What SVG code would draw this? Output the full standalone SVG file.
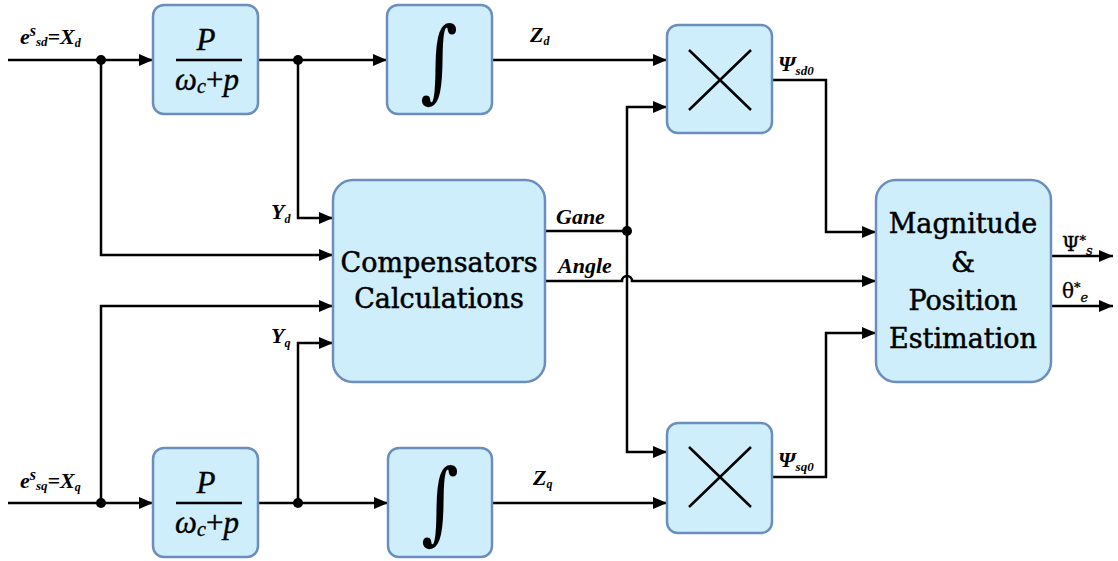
<svg xmlns="http://www.w3.org/2000/svg" width="1118" height="561" viewBox="0 0 1118 561">
<style>
.box{fill:#cdeefa;stroke:#6c8ebf;stroke-width:2.5}
.ln{fill:none;stroke:#000;stroke-width:2.5}
.lbl{font-family:"Liberation Serif","DejaVu Serif",serif;font-style:italic;font-weight:bold;font-size:22px;fill:#000}
.big{font-family:"DejaVu Serif","Liberation Serif",serif;font-size:27px;fill:#000;stroke:#000;stroke-width:0.5;text-anchor:middle}
.frac{font-family:"Liberation Serif","DejaVu Serif",serif;font-style:italic;font-size:31px;fill:#000;stroke:#000;stroke-width:0.4;text-anchor:middle}
.int{font-family:"DejaVu Serif",serif;font-size:72px;fill:#000;text-anchor:middle}
.out{font-family:"DejaVu Serif",serif;font-size:20px;fill:#000;stroke:#000;stroke-width:0.3}
</style>
<defs>
<marker id="ah" viewBox="0 0 14 12" refX="14" refY="6" markerWidth="14" markerHeight="12" markerUnits="userSpaceOnUse" orient="auto">
<path d="M0,0 L14,6 L0,12 Z" fill="#000"/>
</marker>
</defs>

<g id="connectors">
<path class="ln" d="M8,60 H153" marker-end="url(#ah)"/>
<path class="ln" d="M258,60 H387" marker-end="url(#ah)"/>
<path class="ln" d="M492,60 H667" marker-end="url(#ah)"/>
<path class="ln" d="M101,60 V255 H333" marker-end="url(#ah)"/>
<path class="ln" d="M298,60 V218 H333" marker-end="url(#ah)"/>
<path class="ln" d="M8,503 H153" marker-end="url(#ah)"/>
<path class="ln" d="M258,503 H388" marker-end="url(#ah)"/>
<path class="ln" d="M492,503 H667" marker-end="url(#ah)"/>
<path class="ln" d="M101,503 V306 H333" marker-end="url(#ah)"/>
<path class="ln" d="M298,503 V343 H333" marker-end="url(#ah)"/>
<path class="ln" d="M545,231 H627"/>
<path class="ln" d="M627,231 V107 H667" marker-end="url(#ah)"/>
<path class="ln" d="M627,231 V452 H667" marker-end="url(#ah)"/>
<path class="ln" d="M545,281 H622 A5,5 0 0 1 632,281 H876" marker-end="url(#ah)"/>
<path class="ln" d="M772,80 H826 V232 H876" marker-end="url(#ah)"/>
<path class="ln" d="M772,477 H826 V333 H876" marker-end="url(#ah)"/>
<path class="ln" d="M1051,256 H1113" marker-end="url(#ah)"/>
<path class="ln" d="M1051,306 H1113" marker-end="url(#ah)"/>
<circle cx="101" cy="60" r="5"/>
<circle cx="298" cy="60" r="5"/>
<circle cx="101" cy="503" r="5"/>
<circle cx="298" cy="503" r="5"/>
<circle cx="627" cy="231" r="5"/>
</g>

<g id="lpf-d">
<rect class="box" x="153" y="5" width="105" height="109" rx="11"/>
<text class="frac" x="206" y="50">P</text>
<line x1="176" y1="60" x2="242" y2="60" stroke="#000" stroke-width="2.5"/>
<text class="frac" x="207" y="90">ω<tspan font-size="20" dy="3">c</tspan><tspan font-style="normal" dy="-3">+</tspan>p</text>
</g>

<g id="int-d">
<rect class="box" x="387" y="5" width="105" height="109" rx="11"/>
<text class="int" x="0" y="22" transform="translate(439,63) scale(1,1.25)">∫</text>
</g>

<g id="mul-d">
<rect class="box" x="667" y="25" width="105" height="108" rx="11"/>
<path class="ln" d="M689,50 L751,110 M751,50 L689,110"/>
</g>

<g id="comp">
<rect class="box" x="333" y="180" width="212" height="202" rx="20"/>
<text class="big" x="439" y="272">Compensators</text>
<text class="big" x="439" y="308">Calculations</text>
</g>

<g id="mag">
<rect class="box" x="876" y="180" width="175" height="202" rx="20"/>
<text class="big" x="963" y="233">Magnitude</text>
<text class="big" x="963" y="272">&amp;</text>
<text class="big" x="963" y="310">Position</text>
<text class="big" x="963" y="348">Estimation</text>
</g>

<g id="lpf-q">
<rect class="box" x="153" y="448" width="105" height="109" rx="11"/>
<text class="frac" x="206" y="493">P</text>
<line x1="176" y1="503" x2="242" y2="503" stroke="#000" stroke-width="2.5"/>
<text class="frac" x="207" y="533">ω<tspan font-size="20" dy="3">c</tspan><tspan font-style="normal" dy="-3">+</tspan>p</text>
</g>

<g id="int-q">
<rect class="box" x="388" y="448" width="104" height="109" rx="11"/>
<text class="int" x="0" y="22" transform="translate(440,505) scale(1,1.25)">∫</text>
</g>

<g id="mul-q">
<rect class="box" x="667" y="423" width="105" height="110" rx="11"/>
<path class="ln" d="M689,447 L751,507 M751,447 L689,507"/>
</g>

<g id="labels">
<text class="lbl" x="20" y="44">e<tspan font-size="16" dy="-8">s</tspan><tspan font-size="13" dy="10">sd</tspan><tspan dy="-2">=X</tspan><tspan font-size="12" dy="3">d</tspan></text>
<text class="lbl" x="20" y="488">e<tspan font-size="16" dy="-8">s</tspan><tspan font-size="13" dy="10">sq</tspan><tspan dy="-2">=X</tspan><tspan font-size="12" dy="3">q</tspan></text>
<text class="lbl" x="530" y="42">Z<tspan font-size="12" dy="3">d</tspan></text>
<text class="lbl" x="533" y="485">Z<tspan font-size="12" dy="3">q</tspan></text>
<text class="lbl" x="271" y="219">Y<tspan font-size="12" dy="4">d</tspan></text>
<text class="lbl" x="271" y="343">Y<tspan font-size="12" dy="4">q</tspan></text>
<text class="lbl" x="556" y="224">Gane</text>
<text class="lbl" x="558" y="273">Angle</text>
<text class="lbl" x="778" y="71">Ψ<tspan font-size="13" dy="4">sd0</tspan></text>
<text class="lbl" x="778" y="467">Ψ<tspan font-size="13" dy="4">sq0</tspan></text>
<text class="out" x="1062" y="251">Ψ<tspan font-size="13" dy="-6" font-style="italic">*</tspan><tspan font-size="13" dy="10" font-style="italic">s</tspan></text>
<text class="out" x="1062" y="298">θ<tspan font-size="13" dy="-6" font-style="italic">*</tspan><tspan font-size="13" dy="10" font-style="italic">e</tspan></text>
</g>
</svg>
